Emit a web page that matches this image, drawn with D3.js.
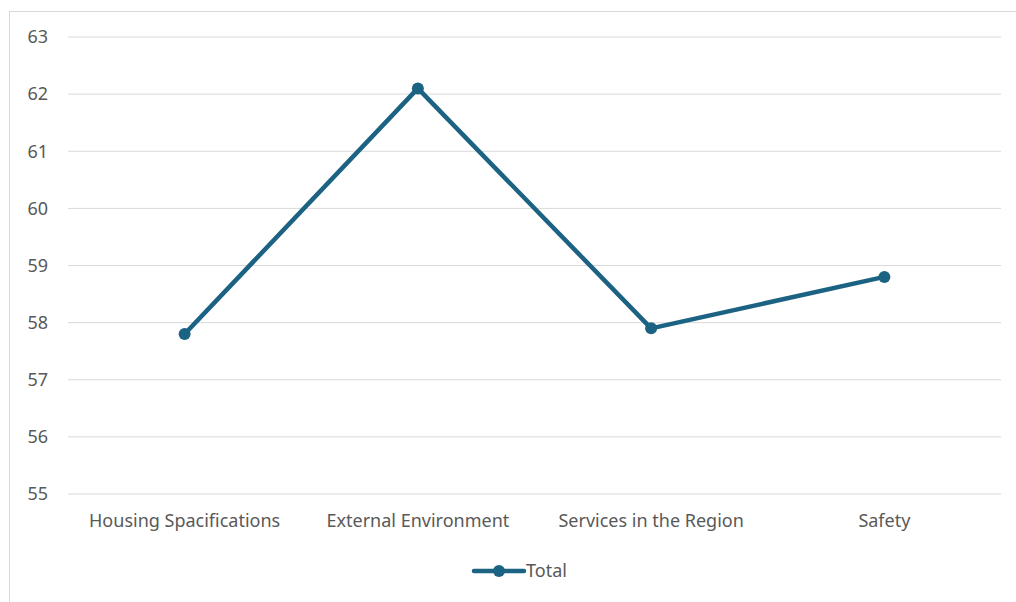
<!DOCTYPE html>
<html>
<head>
<meta charset="utf-8">
<script src="https://cdn.jsdelivr.net/npm/d3@7"></script>
<style>
  body { margin: 0; background: #fff; }
  text { font-family: "Noto Sans", "Open Sans", sans-serif; fill: #595959; }
</style>
</head>
<body>
<svg id="chart" width="1016" height="602"></svg>
<script>
const categories = ["Housing Spacifications", "External Environment", "Services in the Region", "Safety"];
const totals = [57.8, 62.1, 57.9, 58.8];
const yTicks = [55, 56, 57, 58, 59, 60, 61, 62, 63];
const seriesName = "Total";

const color = "#1b6283";
const svg = d3.select("#chart");

// chart area border (runs off the right/bottom edge like the original)
svg.append("rect")
  .attr("x", 9.5).attr("y", 11.5)
  .attr("width", 1100).attr("height", 700)
  .attr("fill", "none").attr("stroke", "#d9d9d9");

const plotLeft = 68, plotRight = 1001, plotTop = 37, plotBottom = 494;

const x = d3.scaleBand().domain(categories).range([plotLeft, plotRight]);
const y = d3.scaleLinear().domain([55, 63]).range([plotBottom, plotTop]);

// gridlines
svg.append("g")
  .selectAll("line")
  .data(yTicks)
  .enter().append("line")
    .attr("x1", plotLeft).attr("x2", plotRight)
    .attr("y1", d => y(d)).attr("y2", d => y(d))
    .attr("stroke", "#d9d9d9").attr("stroke-width", 1);

// y labels
const yAxis = svg.append("g")
  .attr("transform", `translate(${plotLeft - 20},0)`)
  .call(d3.axisLeft(y).tickValues(yTicks).tickSize(0).tickPadding(0));
yAxis.select(".domain").remove();
yAxis.selectAll("text")
  .attr("font-size", 18).attr("font-family", null).attr("fill", "#595959");

// x labels
const xAxis = svg.append("g")
  .attr("transform", `translate(0,${plotBottom})`)
  .call(d3.axisBottom(x).tickSize(0).tickPadding(20));
xAxis.select(".domain").remove();
xAxis.selectAll("text")
  .attr("font-size", 18).attr("font-family", null).attr("fill", "#595959");

// line
const cx = d => x(d) + x.bandwidth() / 2;
svg.append("path")
  .datum(categories)
  .attr("fill", "none")
  .attr("stroke", color)
  .attr("stroke-width", 4.5)
  .attr("stroke-linejoin", "round")
  .attr("d", d3.line().x(d => cx(d)).y((d, i) => y(totals[i])));

svg.append("g")
  .selectAll("circle")
  .data(categories)
  .enter().append("circle")
    .attr("cx", d => cx(d))
    .attr("cy", (d, i) => y(totals[i]))
    .attr("r", 6)
    .attr("fill", color);

// legend
const lg = svg.append("g").attr("transform", "translate(474,571)");
lg.append("line")
  .attr("x1", 0).attr("x2", 50)
  .attr("stroke", color).attr("stroke-width", 4.5).attr("stroke-linecap", "round");
lg.append("circle").attr("cx", 25).attr("r", 6).attr("fill", color);
lg.append("text")
  .attr("x", 52).attr("dy", "0.35em")
  .attr("font-size", 18)
  .text(seriesName);
</script>
</body>
</html>
